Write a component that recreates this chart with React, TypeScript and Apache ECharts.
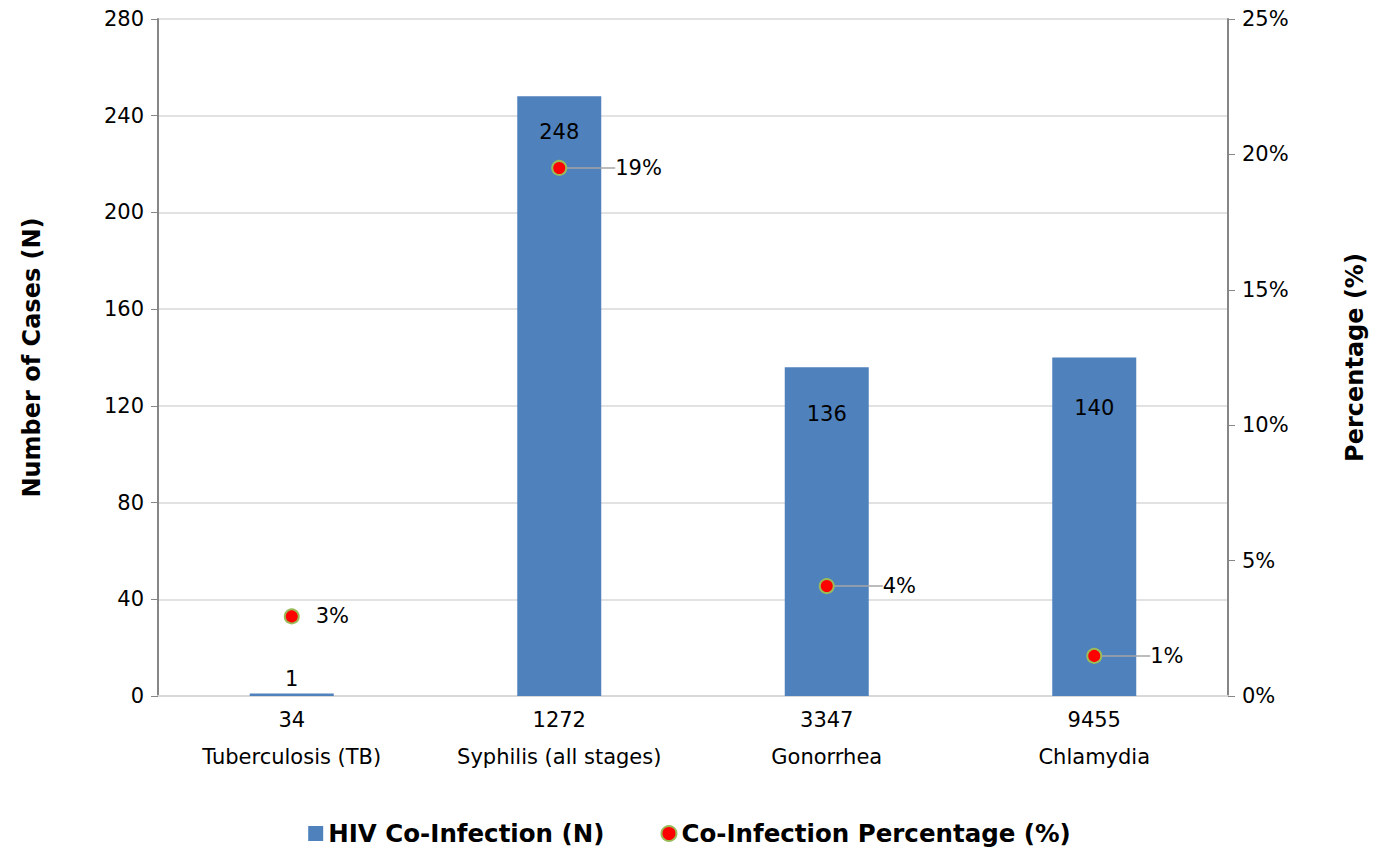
import React, { useEffect, useRef } from "react";
import * as echarts from "echarts";

const categories = ["Tuberculosis (TB)", "Syphilis (all stages)", "Gonorrhea", "Chlamydia"];
const totals = ["34", "1272", "3347", "9455"];
const coInfection = [1, 248, 136, 140];
const percentages = [2.94, 19.5, 4.06, 1.48];
const percentLabels = ["3%", "19%", "4%", "1%"];
const leftTicks = [0, 40, 80, 120, 160, 200, 240, 280];

const FONT = "DejaVu Sans";

export default function App() {
  const ref = useRef<HTMLDivElement>(null);
  useEffect(() => {
    if (!ref.current) return;
    const chart = echarts.init(ref.current, undefined, { renderer: "svg" });
    chart.setOption({
      animation: false,
      textStyle: { fontFamily: FONT },
      grid: { left: 150, right: 143, top: 11, bottom: 151, containLabel: false, outerBoundsMode: "none" },
      legend: {
        top: 808,
        left: "center",
        itemGap: 56,
        itemWidth: 15,
        itemHeight: 15,
        textStyle: { fontFamily: FONT, fontWeight: "bold", fontSize: 24.5, color: "#000" },
        data: [
          { name: "HIV Co-Infection (N)", icon: "rect" },
          { name: "Co-Infection Percentage (%)", icon: "circle", itemStyle: { color: "#FF0000", borderColor: "#9BBB59", borderWidth: 2 } },
        ],
      },
      xAxis: {
        type: "category",
        data: categories.map((c, i) => totals[i] + "\n" + c),
        axisLine: { lineStyle: { color: "#D9D9D9", width: 2 } },
        axisTick: { show: false },
        axisLabel: { color: "#000", fontSize: 21, lineHeight: 37, margin: 5, interval: 0 },
      },
      yAxis: [
        {
          type: "value",
          min: 0,
          max: leftTicks[leftTicks.length - 1],
          interval: 40,
          name: "Number of Cases (N)",
          nameLocation: "middle",
          nameGap: 114,
          nameTextStyle: { fontWeight: "bold", fontSize: 24, color: "#000" },
          axisLine: { show: true, lineStyle: { color: "#868686", width: 2 } },
          axisTick: { show: true, length: 7, lineStyle: { color: "#868686" } },
          axisLabel: { color: "#000", fontSize: 21, margin: 14 },
          splitLine: { lineStyle: { color: "#D9D9D9", width: 1.5 } },
        },
        {
          type: "value",
          min: 0,
          max: 25,
          interval: 5,
          position: "right",
          name: "Percentage (%)",
          nameLocation: "middle",
          nameGap: 115,
          nameRotate: 90,
          nameTextStyle: { fontWeight: "bold", fontSize: 24, color: "#000" },
          axisLine: { show: true, lineStyle: { color: "#868686", width: 2 } },
          axisTick: { show: true, length: 7, lineStyle: { color: "#868686" } },
          axisLabel: { color: "#000", fontSize: 21, margin: 14, formatter: "{value}%" },
          splitLine: { show: false },
        },
      ],
      series: [
        {
          name: "HIV Co-Infection (N)",
          type: "bar",
          barWidth: 84,
          itemStyle: { color: "#4F81BD" },
          data: coInfection.map((v, i) => ({
            value: v,
            label:
              i === 0
                ? { show: true, position: "top", distance: 4 }
                : { show: true, position: "insideTop", distance: i === 1 ? 25 : i === 2 ? 36 : 40 },
          })),
          label: { show: true, color: "#000", fontSize: 21, fontFamily: FONT },
          z: 2,
        },
        {
          name: "Co-Infection Percentage (%)",
          type: "scatter",
          yAxisIndex: 1,
          symbol: "circle",
          symbolSize: 14,
          itemStyle: { color: "#FF0000", borderColor: "#9BBB59", borderWidth: 2, opacity: 1 },
          data: percentages.map((v, i) => ({
            value: v,
            label: {
              show: true,
              position: "right",
              distance: i === 0 ? 16 : 4,
              formatter: () => percentLabels[i],
            },
            labelLine: { show: i !== 0, lineStyle: { color: "#A6A6A6", width: 1.5 } },
          })),
          label: { color: "#000", fontSize: 21, fontFamily: FONT },
          labelLayout: (p: any) => (p.dataIndex === 0 ? {} : { dx: 44 }),
          z: 3,
        },
      ],
    });
    return () => chart.dispose();
  }, []);
  return <div ref={ref} style={{ width: 1363, height: 839 }} />;
}
